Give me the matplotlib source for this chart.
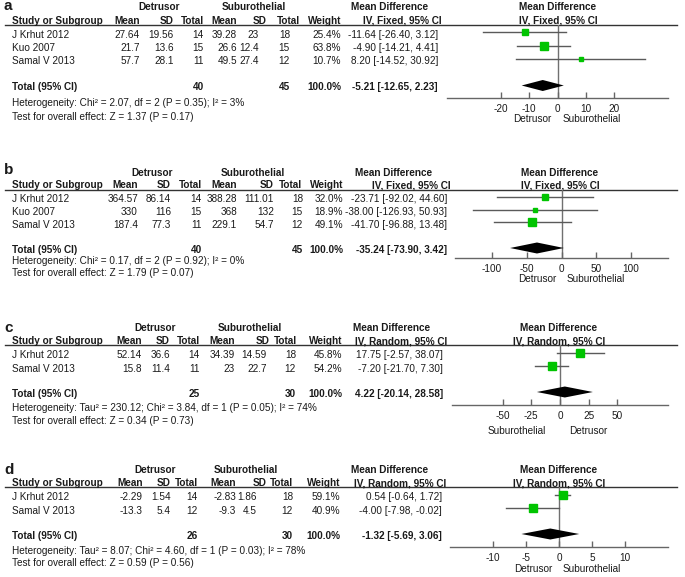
import matplotlib.pyplot as plt
import numpy as np

plt.rcParams['font.family'] = ['Liberation Sans', 'DejaVu Sans']
plt.rcParams['axes.unicode_minus'] = False

W, H = 685, 577
FS = 7.2
GREEN = '#00c400'
TXT = '#1a1a1a'

# ---------------- panel a ----------------
a_study = ["J Krhut 2012", "Kuo 2007", "Samal V 2013"]
a_det_mean = ["27.64", "21.7", "57.7"]
a_det_sd = ["19.56", "13.6", "28.1"]
a_det_n = [14, 15, 11]
a_sub_mean = ["39.28", "26.6", "49.5"]
a_sub_sd = ["23", "12.4", "27.4"]
a_sub_n = [18, 15, 12]
a_weight = [25.4, 63.8, 10.7]
a_md = [-11.64, -4.90, 8.20]
a_lo = [-26.40, -14.21, -14.52]
a_hi = [3.12, 4.41, 30.92]
a_total = [-5.21, -12.65, 2.23]
a_n = [40, 45]
a_het = "Heterogeneity: Chi\u00b2 = 2.07, df = 2 (P = 0.35); I\u00b2 = 3%"
a_test = "Test for overall effect: Z = 1.37 (P = 0.17)"
a_ticks = [-20, -10, 0, 10, 20]
a_fav = ["Detrusor", "Suburothelial"]

# ---------------- panel b ----------------
b_study = ["J Krhut 2012", "Kuo 2007", "Samal V 2013"]
b_det_mean = ["364.57", "330", "187.4"]
b_det_sd = ["86.14", "116", "77.3"]
b_det_n = [14, 15, 11]
b_sub_mean = ["388.28", "368", "229.1"]
b_sub_sd = ["111.01", "132", "54.7"]
b_sub_n = [18, 15, 12]
b_weight = [32.0, 18.9, 49.1]
b_md = [-23.71, -38.00, -41.70]
b_lo = [-92.02, -126.93, -96.88]
b_hi = [44.60, 50.93, 13.48]
b_total = [-35.24, -73.90, 3.42]
b_n = [40, 45]
b_het = "Heterogeneity: Chi\u00b2 = 0.17, df = 2 (P = 0.92); I\u00b2 = 0%"
b_test = "Test for overall effect: Z = 1.79 (P = 0.07)"
b_ticks = [-100, -50, 0, 50, 100]
b_fav = ["Detrusor", "Suburothelial"]

# ---------------- panel c ----------------
c_study = ["J Krhut 2012", "Samal V 2013"]
c_det_mean = ["52.14", "15.8"]
c_det_sd = ["36.6", "11.4"]
c_det_n = [14, 11]
c_sub_mean = ["34.39", "23"]
c_sub_sd = ["14.59", "22.7"]
c_sub_n = [18, 12]
c_weight = [45.8, 54.2]
c_md = [17.75, -7.20]
c_lo = [-2.57, -21.70]
c_hi = [38.07, 7.30]
c_total = [4.22, -20.14, 28.58]
c_n = [25, 30]
c_het = "Heterogeneity: Tau\u00b2 = 230.12; Chi\u00b2 = 3.84, df = 1 (P = 0.05); I\u00b2 = 74%"
c_test = "Test for overall effect: Z = 0.34 (P = 0.73)"
c_ticks = [-50, -25, 0, 25, 50]
c_fav = ["Suburothelial", "Detrusor"]

# ---------------- panel d ----------------
d_study = ["J Krhut 2012", "Samal V 2013"]
d_det_mean = ["-2.29", "-13.3"]
d_det_sd = ["1.54", "5.4"]
d_det_n = [14, 12]
d_sub_mean = ["-2.83", "-9.3"]
d_sub_sd = ["1.86", "4.5"]
d_sub_n = [18, 12]
d_weight = [59.1, 40.9]
d_md = [0.54, -4.00]
d_lo = [-0.64, -7.98]
d_hi = [1.72, -0.02]
d_total = [-1.32, -5.69, 3.06]
d_n = [26, 30]
d_het = "Heterogeneity: Tau\u00b2 = 8.07; Chi\u00b2 = 4.60, df = 1 (P = 0.03); I\u00b2 = 78%"
d_test = "Test for overall effect: Z = 0.59 (P = 0.56)"
d_ticks = [-10, -5, 0, 5, 10]
d_fav = ["Detrusor", "Suburothelial"]

col_heads = ["Mean", "SD", "Total", "Mean", "SD", "Total", "Weight"]

lay_a = dict(label_y=6, group_y=7.5, line_y=24.5, rows=[32.3, 45.5, 59], total_y=85.5,
             het_y=103, test_y=117, axis_y=98, fav_dy=21, lim=39,
             hcols=[140, 174, 204, 237, 267, 300, 341], vcols=[140, 174, 204, 237, 259, 290, 341],
             det_c=159, sub_c=254, md_c=390, md_r=438, fp_c=558, fp_x=(447, 668), fav_gap=(6, 5),
             method="IV, Fixed, 95% CI")
lay_b = dict(label_y=170, group_y=173, line_y=189.5, rows=[197, 209.5, 222], total_y=248,
             het_y=261, test_y=273, axis_y=258, fav_dy=21, lim=153,
             hcols=[138, 171, 202, 237, 274, 302, 343], vcols=[138, 171, 202, 237, 274, 303, 343],
             det_c=152, sub_c=253, md_c=394, md_r=447, fp_c=560, fp_x=(455, 668), fav_gap=(5, 5),
             method="IV, Fixed, 95% CI")
lay_c = dict(label_y=328, group_y=328, line_y=345, rows=[353, 366], total_y=392,
             het_y=408, test_y=421, axis_y=405, fav_dy=26, lim=94,
             hcols=[142, 170, 200, 235, 270, 297, 342], vcols=[142, 170, 200, 235, 267, 296, 342],
             det_c=155, sub_c=250, md_c=392, md_r=443, fp_c=559, fp_x=(452, 668), fav_gap=(14, 9),
             method="IV, Random, 95% CI")
lay_d = dict(label_y=470, group_y=470, line_y=487, rows=[495, 508], total_y=534,
             het_y=551, test_y=563, axis_y=547, fav_dy=22, lim=16.5,
             hcols=[143, 171, 198, 236, 267, 293, 340], vcols=[143, 171, 198, 236, 257, 293, 340],
             det_c=155, sub_c=246, md_c=390, md_r=442, fp_c=559, fp_x=(450, 668), fav_gap=(7, 4),
             method="IV, Random, 95% CI")

fig = plt.figure(figsize=(W / 100, H / 100), dpi=100)
bg = fig.add_axes([0, 0, 1, 1])
bg.set_xlim(0, W)
bg.set_ylim(H, 0)
bg.axis('off')


def ci_text(m, lo, hi):
    return "%.2f [%.2f, %.2f]" % (m, lo, hi)


def draw_panel(label, d, L):
    kw = dict(fontsize=FS, color=TXT)
    bkw = dict(fontsize=FS, color=TXT, fontweight='bold')
    bg.text(4, L['label_y'], label, fontsize=11, fontweight='bold', color=TXT, ha='left', va='center')
    gy = L['group_y']
    bg.text(L['det_c'], gy, "Detrusor", ha='center', va='center', **bkw)
    bg.text(L['sub_c'], gy, "Suburothelial", ha='center', va='center', **bkw)
    bg.text(L['md_c'], gy, "Mean Difference", ha='center', va='center', **bkw)
    bg.text(L['fp_c'], gy, "Mean Difference", ha='center', va='center', **bkw)

    hb = L['line_y'] - 1
    bg.text(12, hb, "Study or Subgroup", ha='left', va='baseline', **bkw)
    for h, x in zip(col_heads, L['hcols']):
        bg.text(x, hb, h, ha='right', va='baseline', **bkw)
    bg.text(L['md_r'] + 4, hb, L['method'], ha='right', va='baseline', **bkw)
    bg.text(L['fp_c'], hb, L['method'], ha='center', va='baseline', **bkw)
    bg.plot([5, 677], [L['line_y'], L['line_y']], color='#333333', lw=1)

    # study rows
    for i, s in enumerate(d['study']):
        y = L['rows'][i] + 2.5
        cells = [d['det_mean'][i], d['det_sd'][i], str(d['det_n'][i]),
                 d['sub_mean'][i], d['sub_sd'][i], str(d['sub_n'][i]),
                 "%.1f%%" % d['weight'][i]]
        bg.text(12, y, s, ha='left', va='center', **kw)
        for c, x in zip(cells, L['vcols']):
            bg.text(x, y, c, ha='right', va='center', **kw)
        bg.text(L['md_r'], y, ci_text(d['md'][i], d['lo'][i], d['hi'][i]), ha='right', va='center', **kw)

    ty = L['total_y'] + 2
    bg.text(12, ty, "Total (95% CI)", ha='left', va='center', **bkw)
    bg.text(L['vcols'][2], ty, str(d['n'][0]), ha='right', va='center', **bkw)
    bg.text(L['vcols'][5], ty, str(d['n'][1]), ha='right', va='center', **bkw)
    bg.text(L['vcols'][6], ty, "100.0%", ha='right', va='center', **bkw)
    bg.text(L['md_r'], ty, ci_text(*d['total']), ha='right', va='center', **bkw)
    bg.text(12, L['het_y'], d['het'], ha='left', va='center', **kw)
    bg.text(12, L['test_y'], d['test'], ha='left', va='center', **kw)

    # forest plot
    x0, x1 = L['fp_x']
    ax = fig.add_axes([x0 / W, 1 - L['axis_y'] / H, (x1 - x0) / W, (L['axis_y'] - L['line_y']) / H])
    ax.patch.set_alpha(0)
    ax.set_xlim(-L['lim'], L['lim'])
    ax.set_ylim(L['axis_y'], L['line_y'])
    for sp in ['top', 'left', 'right']:
        ax.spines[sp].set_visible(False)
    ax.spines['bottom'].set_color('#666666')
    ax.spines['bottom'].set_linewidth(1)
    ax.set_yticks([])
    ax.set_xticks(d['ticks'])
    ax.set_xticklabels([str(t) for t in d['ticks']])
    ax.tick_params(axis='x', direction='in', length=4, width=1, color='#666666',
                   labelsize=FS, labelcolor=TXT, pad=4.5)
    ax.axvline(0, color='#707070', lw=1, zorder=1)
    for i in range(len(d['study'])):
        y = L['rows'][i]
        ax.plot([d['lo'][i], d['hi'][i]], [y, y], color='#5a5a5a', lw=1, zorder=2)
        side = 1.1 * np.sqrt(d['weight'][i])
        ax.plot(d['md'][i], y, marker='s', ms=side * 0.72, color=GREEN, mec=GREEN, zorder=3)
    est, lo, hi = d['total']
    yd = L['total_y']
    ax.fill([lo, est, hi, est], [yd, yd - 5.5, yd, yd + 5.5], color='black', lw=0, zorder=3)
    g0, g1 = L['fav_gap']
    dy = -L['fav_dy'] * 0.72
    ax.annotate(d['fav'][0], xy=(0, 0), xycoords=('data', 'axes fraction'),
                xytext=(-g0 * 0.72, dy), textcoords='offset points',
                ha='right', va='center', **kw)
    ax.annotate(d['fav'][1], xy=(0, 0), xycoords=('data', 'axes fraction'),
                xytext=(g1 * 0.72, dy), textcoords='offset points',
                ha='left', va='center', **kw)


panels = [
    ("a", dict(study=a_study, det_mean=a_det_mean, det_sd=a_det_sd, det_n=a_det_n,
               sub_mean=a_sub_mean, sub_sd=a_sub_sd, sub_n=a_sub_n, weight=a_weight,
               md=a_md, lo=a_lo, hi=a_hi, total=a_total, n=a_n, het=a_het, test=a_test,
               ticks=a_ticks, fav=a_fav), lay_a),
    ("b", dict(study=b_study, det_mean=b_det_mean, det_sd=b_det_sd, det_n=b_det_n,
               sub_mean=b_sub_mean, sub_sd=b_sub_sd, sub_n=b_sub_n, weight=b_weight,
               md=b_md, lo=b_lo, hi=b_hi, total=b_total, n=b_n, het=b_het, test=b_test,
               ticks=b_ticks, fav=b_fav), lay_b),
    ("c", dict(study=c_study, det_mean=c_det_mean, det_sd=c_det_sd, det_n=c_det_n,
               sub_mean=c_sub_mean, sub_sd=c_sub_sd, sub_n=c_sub_n, weight=c_weight,
               md=c_md, lo=c_lo, hi=c_hi, total=c_total, n=c_n, het=c_het, test=c_test,
               ticks=c_ticks, fav=c_fav), lay_c),
    ("d", dict(study=d_study, det_mean=d_det_mean, det_sd=d_det_sd, det_n=d_det_n,
               sub_mean=d_sub_mean, sub_sd=d_sub_sd, sub_n=d_sub_n, weight=d_weight,
               md=d_md, lo=d_lo, hi=d_hi, total=d_total, n=d_n, het=d_het, test=d_test,
               ticks=d_ticks, fav=d_fav), lay_d),
]

for lab, dat, lay in panels:
    draw_panel(lab, dat, lay)

fig.savefig("out.png", dpi=100)
